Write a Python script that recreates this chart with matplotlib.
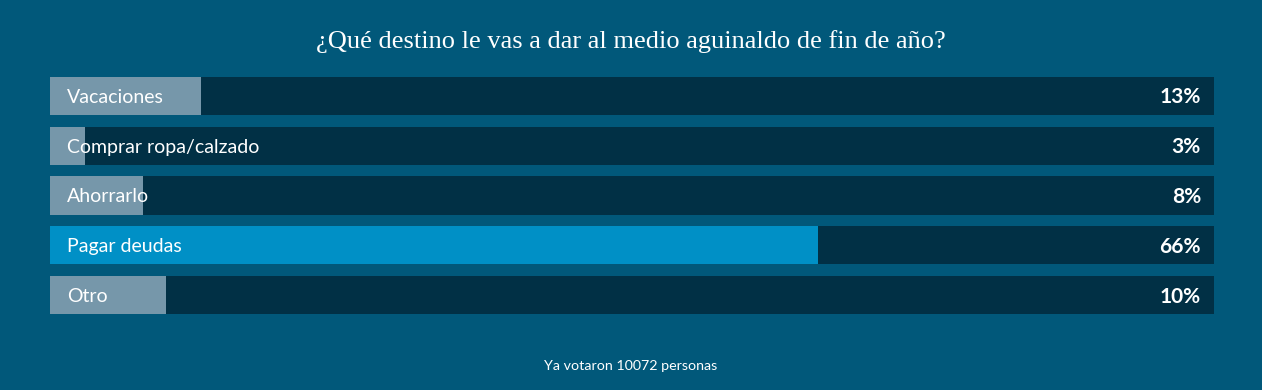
import numpy as np
import matplotlib.pyplot as plt

# datos de la encuesta
categorias = ['Vacaciones', 'Comprar ropa/calzado', 'Ahorrarlo', 'Pagar deudas', 'Otro']
porcentajes = [13, 3, 8, 66, 10]
titulo = '¿Qué destino le vas a dar al medio aguinaldo de fin de año?'
pie_texto = 'Ya votaron 10072 personas'

#colores
bg = '#01587a'
track = '#013045'
gris = '#7697aa'
azul = '#0090c6'

W, H = 1262, 390
fig = plt.figure(figsize=(W / 100, H / 100), dpi=100)
fig.patch.set_facecolor(bg)

# eje en coordenadas de la zona de barras
ax = fig.add_axes([50 / W, 70.1 / H, 1164 / W, 248.8 / H])
ax.set_facecolor(bg)
ax.set_xlim(0, 100)
ax.set_ylim(len(categorias) - 0.5, -0.5)
ax.axis('off')

y = np.arange(len(categorias))
ganador = int(np.argmax(porcentajes))
colores = [azul if i == ganador else gris for i in range(len(categorias))]

ax.barh(y, [100] * len(categorias), height=0.77, color=track, zorder=1)
ax.barh(y, porcentajes, height=0.77, color=colores, zorder=2)

for i, (cat, p) in enumerate(zip(categorias, porcentajes)):
    ax.text(17 / 11.64, i + 0.03, cat, color='white', fontsize=14, family='Lato',
            va='center', ha='left', zorder=3)
    ax.text(100 - 13 / 11.64, i + 0.03, f'{p}%', color='white', fontsize=15,
            fontweight='bold', family='Lato', va='center', ha='right', zorder=3)

fig.text(0.5, 1 - 42 / H, titulo, color='white', fontsize=19,
         family='Liberation Serif', ha='center', va='center')
fig.text(0.5, 1 - 366 / H, pie_texto, color='white', fontsize=10.3,
         family='Lato', ha='center', va='center')

fig.savefig('out.png', dpi=100, facecolor=bg)
